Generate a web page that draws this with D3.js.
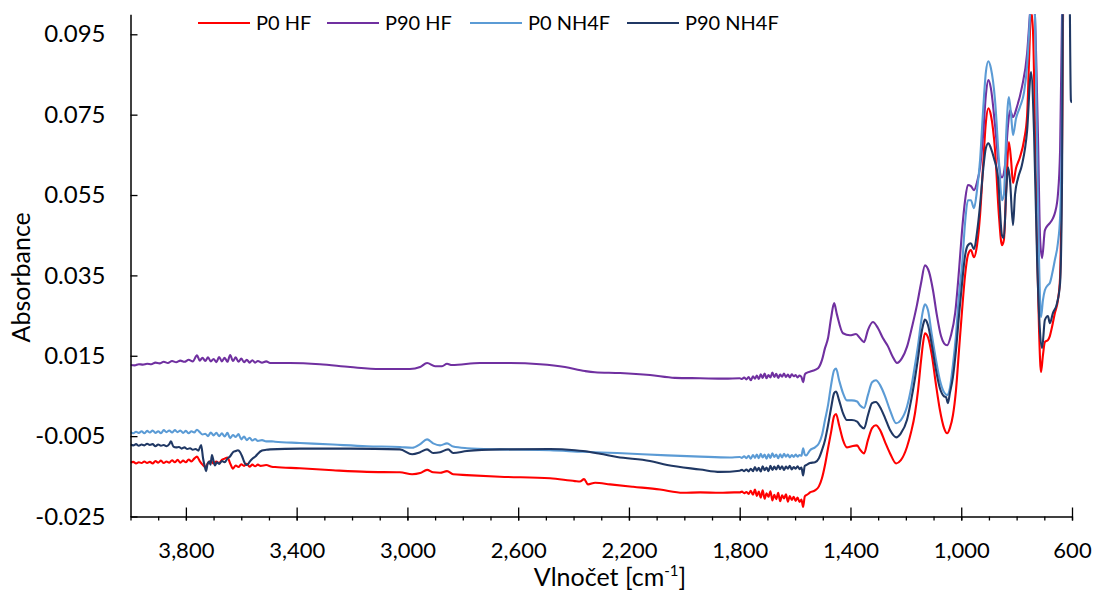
<!DOCTYPE html>
<html>
<head>
<meta charset="utf-8">
<script src="https://cdn.jsdelivr.net/npm/d3@7"></script>
<style>
  html, body { margin: 0; padding: 0; background: #fff; }
  svg { display: block; font-family: Lato, "Open Sans", sans-serif; }
</style>
</head>
<body>
<svg id="chart" width="1093" height="591"></svg>
<script>
// FTIR spectra: absorbance vs. wavenumber (cm^-1), x axis reversed
const seriesNames = ["P0 HF", "P90 HF", "P0 NH4F", "P90 NH4F"];
const seriesColors = ["#ff0000", "#7030a0", "#5b9bd5", "#203864"];

const wavenumberTicks = [3800, 3400, 3000, 2600, 2200, 1800, 1400, 1000, 600];
const absorbanceTicks = [-0.025, -0.005, 0.015, 0.035, 0.055, 0.075, 0.095];

// [wavenumber, absorbance]
const p0HF = [[4000,-0.0116],[3990,-0.0114],[3980,-0.0118],[3970,-0.0115],[3960,-0.0117],[3950,-0.0113],[3940,-0.0117],[3930,-0.0114],[3920,-0.0118],[3910,-0.0112],[3900,-0.0116],[3890,-0.0111],[3880,-0.0117],[3870,-0.0113],[3860,-0.0116],[3850,-0.0110],[3840,-0.0115],[3830,-0.0109],[3820,-0.0116],[3810,-0.0111],[3800,-0.0115],[3790,-0.0108],[3780,-0.0113],[3770,-0.0106],[3760,-0.0101],[3750,-0.0112],[3740,-0.0121],[3730,-0.0127],[3720,-0.0117],[3710,-0.0112],[3700,-0.0118],[3690,-0.0113],[3680,-0.0117],[3670,-0.0109],[3660,-0.0106],[3650,-0.0103],[3640,-0.0118],[3630,-0.0131],[3620,-0.0123],[3610,-0.0127],[3600,-0.0120],[3590,-0.0124],[3580,-0.0119],[3570,-0.0126],[3560,-0.0121],[3550,-0.0125],[3540,-0.0121],[3530,-0.0124],[3510,-0.0122],[3490,-0.0126],[3478,-0.0127],[3388,-0.0130],[3269,-0.0135],[3146,-0.0139],[3027,-0.0140],[2983,-0.0145],[2954,-0.0142],[2929,-0.0134],[2907,-0.0140],[2882,-0.0141],[2857,-0.0137],[2835,-0.0145],[2785,-0.0147],[2666,-0.0151],[2485,-0.0155],[2395,-0.0162],[2377,-0.0163],[2362,-0.0157],[2348,-0.0170],[2322,-0.0166],[2268,-0.0170],[2185,-0.0176],[2088,-0.0183],[2005,-0.0191],[1943,-0.0190],[1871,-0.0191],[1820,-0.0190],[1800,-0.0190],[1792,-0.0188],[1784,-0.0192],[1776,-0.0189],[1768,-0.0194],[1760,-0.0186],[1752,-0.0196],[1745,-0.0183],[1738,-0.0199],[1731,-0.0188],[1724,-0.0203],[1717,-0.0185],[1710,-0.0206],[1703,-0.0192],[1696,-0.0201],[1689,-0.0187],[1682,-0.0210],[1675,-0.0196],[1668,-0.0207],[1661,-0.0191],[1654,-0.0212],[1647,-0.0197],[1640,-0.0205],[1633,-0.0195],[1626,-0.0213],[1619,-0.0199],[1612,-0.0209],[1605,-0.0201],[1598,-0.0211],[1591,-0.0203],[1584,-0.0214],[1577,-0.0208],[1571,-0.0226],[1565,-0.0200],[1560,-0.0197],[1553,-0.0194],[1546,-0.0190],[1528,-0.0185],[1514,-0.0175],[1503,-0.0155],[1492,-0.0122],[1481,-0.0080],[1470,-0.0040],[1459,0.0000],[1452,0.0005],[1441,-0.0023],[1427,-0.0060],[1413,-0.0078],[1395,-0.0075],[1376,-0.0073],[1366,-0.0083],[1351,-0.0093],[1337,-0.0060],[1322,-0.0030],[1308,-0.0023],[1293,-0.0035],[1275,-0.0065],[1257,-0.0093],[1235,-0.0118],[1218,-0.0110],[1196,-0.0077],[1181,-0.0040],[1167,0.0007],[1156,0.0064],[1145,0.0139],[1138,0.0181],[1131,0.0206],[1120,0.0196],[1106,0.0151],[1091,0.0077],[1077,0.0015],[1062,-0.0030],[1051,-0.0043],[1041,-0.0030],[1030,0.0002],[1019,0.0064],[1008,0.0164],[997,0.0263],[986,0.0351],[976,0.0400],[965,0.0413],[954,0.0395],[943,0.0425],[932,0.0500],[921,0.0624],[911,0.0731],[902,0.0766],[893,0.0749],[878,0.0662],[864,0.0500],[853,0.0425],[846,0.0438],[837,0.0575],[828,0.0682],[820,0.0637],[813,0.0580],[802,0.0617],[788,0.0644],[773,0.0687],[762,0.0749],[755,0.0886],[748,0.1010],[741,0.0960],[734,0.0736],[726,0.0413],[719,0.0214],[712,0.0109],[705,0.0151],[698,0.0184],[687,0.0189],[680,0.0199],[673,0.0219],[662,0.0256],[651,0.0288],[643,0.0346],[636,0.0662],[629,0.1200],[600,0.1200]];

const p90HF = [[4000,0.0127],[3985,0.0126],[3970,0.0129],[3955,0.0128],[3940,0.0130],[3925,0.0129],[3910,0.0133],[3895,0.0131],[3880,0.0135],[3865,0.0132],[3850,0.0137],[3835,0.0134],[3820,0.0138],[3805,0.0135],[3790,0.0140],[3775,0.0136],[3760,0.0151],[3750,0.0138],[3740,0.0145],[3730,0.0137],[3720,0.0146],[3710,0.0136],[3700,0.0142],[3690,0.0134],[3680,0.0147],[3670,0.0136],[3660,0.0145],[3650,0.0135],[3640,0.0152],[3630,0.0137],[3620,0.0146],[3610,0.0135],[3600,0.0143],[3590,0.0134],[3580,0.0140],[3570,0.0133],[3560,0.0139],[3550,0.0133],[3540,0.0137],[3525,0.0133],[3510,0.0136],[3496,0.0132],[3424,0.0132],[3316,0.0129],[3207,0.0122],[3099,0.0117],[2991,0.0117],[2954,0.0122],[2929,0.0132],[2900,0.0124],[2875,0.0124],[2857,0.0130],[2839,0.0127],[2738,0.0132],[2629,0.0132],[2521,0.0129],[2431,0.0122],[2359,0.0112],[2323,0.0109],[2232,0.0107],[2124,0.0102],[2034,0.0095],[1943,0.0094],[1853,0.0093],[1800,0.0094],[1792,0.0092],[1784,0.0096],[1776,0.0091],[1768,0.0097],[1760,0.0089],[1752,0.0099],[1745,0.0093],[1738,0.0101],[1731,0.0092],[1724,0.0104],[1717,0.0095],[1710,0.0106],[1703,0.0094],[1696,0.0102],[1689,0.0096],[1682,0.0108],[1675,0.0097],[1668,0.0105],[1661,0.0095],[1654,0.0103],[1647,0.0098],[1640,0.0106],[1633,0.0097],[1626,0.0103],[1619,0.0096],[1612,0.0104],[1605,0.0099],[1598,0.0102],[1591,0.0096],[1584,0.0101],[1577,0.0097],[1571,0.0084],[1565,0.0103],[1560,0.0107],[1539,0.0112],[1517,0.0119],[1503,0.0139],[1492,0.0169],[1481,0.0194],[1470,0.0244],[1459,0.0281],[1449,0.0253],[1427,0.0206],[1402,0.0201],[1380,0.0204],[1366,0.0194],[1351,0.0184],[1337,0.0214],[1319,0.0234],[1301,0.0219],[1283,0.0194],[1265,0.0174],[1247,0.0147],[1232,0.0132],[1214,0.0144],[1196,0.0172],[1178,0.0221],[1160,0.0276],[1145,0.0331],[1131,0.0375],[1116,0.0358],[1102,0.0313],[1088,0.0251],[1073,0.0199],[1062,0.0181],[1051,0.0176],[1037,0.0201],[1022,0.0256],[1008,0.0363],[997,0.0462],[986,0.0537],[976,0.0575],[965,0.0572],[954,0.0562],[943,0.0582],[932,0.0619],[921,0.0699],[911,0.0799],[902,0.0836],[893,0.0816],[878,0.0724],[864,0.0624],[853,0.0594],[842,0.0624],[831,0.0724],[824,0.0761],[813,0.0744],[799,0.0769],[781,0.0818],[762,0.0903],[752,0.1000],[744,0.1080],[734,0.1000],[723,0.0700],[715,0.0438],[708,0.0393],[698,0.0462],[687,0.0475],[680,0.0480],[669,0.0492],[661,0.0507],[651,0.0550],[643,0.0662],[636,0.1000],[625,0.1200],[600,0.1200]];

const p0NH4F = [[4000,-0.0040],[3990,-0.0043],[3980,-0.0039],[3970,-0.0042],[3960,-0.0038],[3950,-0.0043],[3940,-0.0037],[3930,-0.0041],[3920,-0.0036],[3910,-0.0042],[3900,-0.0038],[3890,-0.0043],[3880,-0.0035],[3870,-0.0040],[3860,-0.0036],[3850,-0.0041],[3840,-0.0035],[3830,-0.0040],[3820,-0.0036],[3810,-0.0042],[3800,-0.0037],[3790,-0.0043],[3780,-0.0038],[3770,-0.0041],[3760,-0.0034],[3750,-0.0040],[3740,-0.0046],[3730,-0.0044],[3720,-0.0050],[3710,-0.0041],[3700,-0.0048],[3690,-0.0042],[3680,-0.0050],[3670,-0.0043],[3660,-0.0051],[3650,-0.0042],[3640,-0.0055],[3630,-0.0047],[3620,-0.0052],[3610,-0.0045],[3600,-0.0058],[3590,-0.0051],[3580,-0.0060],[3570,-0.0054],[3560,-0.0061],[3550,-0.0057],[3540,-0.0062],[3525,-0.0060],[3510,-0.0063],[3490,-0.0063],[3478,-0.0064],[3388,-0.0067],[3269,-0.0071],[3146,-0.0075],[3027,-0.0077],[2983,-0.0079],[2954,-0.0070],[2929,-0.0058],[2907,-0.0068],[2882,-0.0073],[2857,-0.0068],[2835,-0.0076],[2785,-0.0080],[2666,-0.0083],[2485,-0.0085],[2366,-0.0089],[2243,-0.0092],[2062,-0.0098],[1943,-0.0101],[1835,-0.0103],[1800,-0.0102],[1792,-0.0104],[1784,-0.0100],[1776,-0.0105],[1768,-0.0099],[1760,-0.0106],[1752,-0.0097],[1745,-0.0104],[1738,-0.0096],[1731,-0.0105],[1724,-0.0094],[1717,-0.0103],[1710,-0.0096],[1703,-0.0106],[1696,-0.0095],[1689,-0.0104],[1682,-0.0093],[1675,-0.0102],[1668,-0.0096],[1661,-0.0105],[1654,-0.0095],[1647,-0.0103],[1640,-0.0094],[1633,-0.0101],[1626,-0.0096],[1619,-0.0103],[1612,-0.0097],[1605,-0.0102],[1598,-0.0096],[1591,-0.0101],[1584,-0.0097],[1577,-0.0099],[1571,-0.0080],[1565,-0.0096],[1560,-0.0098],[1546,-0.0085],[1528,-0.0078],[1514,-0.0068],[1503,-0.0048],[1492,-0.0010],[1481,0.0027],[1470,0.0077],[1459,0.0114],[1452,0.0118],[1441,0.0089],[1427,0.0057],[1413,0.0039],[1395,0.0039],[1376,0.0036],[1366,0.0027],[1351,0.0020],[1337,0.0052],[1322,0.0084],[1308,0.0089],[1293,0.0077],[1275,0.0049],[1257,0.0014],[1235,-0.0018],[1218,-0.0010],[1196,0.0023],[1181,0.0069],[1167,0.0127],[1156,0.0176],[1145,0.0234],[1138,0.0263],[1131,0.0278],[1120,0.0263],[1106,0.0201],[1091,0.0139],[1077,0.0089],[1062,0.0059],[1051,0.0052],[1041,0.0069],[1030,0.0127],[1019,0.0201],[1008,0.0301],[997,0.0375],[986,0.0482],[976,0.0537],[965,0.0537],[954,0.0517],[943,0.0562],[932,0.0637],[921,0.0761],[911,0.0856],[902,0.0883],[893,0.0866],[878,0.0786],[864,0.0637],[853,0.0537],[846,0.0550],[837,0.0711],[828,0.0794],[820,0.0749],[813,0.0699],[802,0.0741],[788,0.0769],[773,0.0806],[762,0.0873],[755,0.0953],[744,0.1070],[734,0.1000],[726,0.0662],[719,0.0388],[712,0.0246],[705,0.0288],[698,0.0313],[687,0.0326],[680,0.0331],[669,0.0363],[662,0.0388],[651,0.0430],[643,0.0495],[636,0.0786],[632,0.1200],[600,0.1200]];

const p90NH4F = [[4000,-0.0071],[3990,-0.0073],[3980,-0.0070],[3970,-0.0074],[3960,-0.0071],[3950,-0.0073],[3940,-0.0069],[3930,-0.0072],[3920,-0.0070],[3910,-0.0075],[3900,-0.0071],[3890,-0.0074],[3880,-0.0072],[3870,-0.0075],[3860,-0.0070],[3854,-0.0063],[3845,-0.0076],[3835,-0.0078],[3825,-0.0077],[3815,-0.0081],[3805,-0.0078],[3795,-0.0082],[3785,-0.0080],[3775,-0.0084],[3765,-0.0082],[3755,-0.0086],[3745,-0.0072],[3738,-0.0105],[3732,-0.0125],[3727,-0.0137],[3722,-0.0120],[3716,-0.0113],[3711,-0.0121],[3706,-0.0097],[3700,-0.0112],[3695,-0.0123],[3688,-0.0115],[3680,-0.0119],[3670,-0.0112],[3660,-0.0115],[3650,-0.0106],[3640,-0.0100],[3630,-0.0090],[3620,-0.0087],[3612,-0.0085],[3604,-0.0090],[3597,-0.0100],[3590,-0.0113],[3582,-0.0122],[3576,-0.0120],[3568,-0.0112],[3558,-0.0105],[3548,-0.0100],[3539,-0.0093],[3525,-0.0086],[3510,-0.0084],[3496,-0.0083],[3388,-0.0081],[3207,-0.0081],[3027,-0.0083],[2983,-0.0095],[2954,-0.0090],[2929,-0.0083],[2907,-0.0092],[2882,-0.0090],[2853,-0.0083],[2835,-0.0092],[2785,-0.0087],[2666,-0.0083],[2485,-0.0082],[2395,-0.0085],[2366,-0.0087],[2304,-0.0094],[2243,-0.0102],[2124,-0.0112],[2062,-0.0122],[1943,-0.0133],[1871,-0.0139],[1800,-0.0136],[1792,-0.0134],[1784,-0.0137],[1776,-0.0133],[1768,-0.0138],[1760,-0.0131],[1752,-0.0137],[1745,-0.0127],[1738,-0.0136],[1731,-0.0129],[1724,-0.0138],[1717,-0.0125],[1710,-0.0135],[1703,-0.0128],[1696,-0.0137],[1689,-0.0124],[1682,-0.0134],[1675,-0.0126],[1668,-0.0133],[1661,-0.0123],[1654,-0.0132],[1647,-0.0125],[1640,-0.0134],[1633,-0.0126],[1626,-0.0131],[1619,-0.0124],[1612,-0.0133],[1605,-0.0127],[1598,-0.0131],[1591,-0.0125],[1584,-0.0132],[1577,-0.0128],[1571,-0.0148],[1565,-0.0124],[1560,-0.0122],[1546,-0.0117],[1528,-0.0115],[1514,-0.0105],[1503,-0.0085],[1492,-0.0060],[1481,-0.0023],[1470,0.0020],[1459,0.0057],[1452,0.0061],[1441,0.0039],[1427,0.0007],[1413,-0.0010],[1395,-0.0010],[1376,-0.0014],[1366,-0.0023],[1351,-0.0031],[1337,0.0002],[1322,0.0032],[1308,0.0035],[1293,0.0022],[1275,-0.0005],[1257,-0.0035],[1235,-0.0053],[1218,-0.0043],[1196,-0.0010],[1181,0.0039],[1167,0.0094],[1156,0.0144],[1145,0.0201],[1138,0.0226],[1131,0.0240],[1120,0.0226],[1106,0.0176],[1091,0.0114],[1077,0.0069],[1062,0.0049],[1055,0.0047],[1048,0.0032],[1041,0.0057],[1030,0.0097],[1019,0.0164],[1008,0.0251],[997,0.0331],[986,0.0400],[976,0.0425],[965,0.0430],[954,0.0415],[943,0.0457],[932,0.0525],[921,0.0612],[911,0.0667],[902,0.0679],[893,0.0667],[882,0.0642],[867,0.0592],[853,0.0450],[846,0.0443],[838,0.0550],[831,0.0619],[824,0.0587],[813,0.0475],[806,0.0550],[795,0.0592],[781,0.0624],[762,0.0711],[748,0.0856],[737,0.0704],[726,0.0388],[716,0.0214],[708,0.0169],[698,0.0239],[687,0.0249],[680,0.0231],[669,0.0256],[654,0.0281],[643,0.0331],[636,0.0587],[632,0.1200],[611,0.1200],[604,0.0786],[600,0.0780]];

const seriesData = [p0HF, p90HF, p0NH4F, p90NH4F];

// ---- layout ----
const plot = { left: 130.5, right: 1072, top: 14.2, bottom: 516.5 };
const svg = d3.select("#chart");

const x = d3.scaleLinear().domain([4000, 600]).range([plot.left, plot.right]);
const y = d3.scaleLinear().domain([-0.025, 0.1]).range([plot.bottom, plot.top]);

svg.append("defs").append("clipPath").attr("id", "plotClip")
  .append("rect")
  .attr("x", plot.left).attr("y", plot.top)
  .attr("width", plot.right - plot.left).attr("height", plot.bottom - plot.top);

// spectra
const line = d3.line()
  .x(d => x(d[0]))
  .y(d => y(d[1]))
  .curve(d3.curveMonotoneX);

svg.append("g").attr("clip-path", "url(#plotClip)")
  .selectAll("path")
  .data(seriesData)
  .join("path")
  .attr("d", line)
  .attr("fill", "none")
  .attr("stroke", (d, i) => seriesColors[i])
  .attr("stroke-width", 2.1)
  .attr("stroke-linejoin", "round");

// x axis: minor ticks every 100 cm^-1 (outside), major ticks crossing the axis
const minorTicks = d3.range(4000, 599, -100);
svg.append("g")
  .attr("transform", `translate(0,${plot.bottom})`)
  .call(d3.axisBottom(x).tickValues(minorTicks).tickSize(4).tickFormat(""))
  .call(g => g.select(".domain").remove())
  .call(g => g.selectAll("line").attr("stroke", "#000").attr("stroke-width", 1.3));

const xAxis = svg.append("g")
  .attr("transform", `translate(0,${plot.bottom})`)
  .call(d3.axisBottom(x).tickValues(wavenumberTicks).tickSizeInner(4).tickSizeOuter(0)
    .tickPadding(22).tickFormat(d3.format(",")));
xAxis.select(".domain").attr("stroke", "#000").attr("stroke-width", 1.5);
xAxis.selectAll(".tick line").attr("y1", -9).attr("stroke", "#000").attr("stroke-width", 1.3);
xAxis.selectAll(".tick text").attr("font-size", 22).attr("fill", "#000")
  .attr("font-family", "Lato, sans-serif");

// y axis: ticks pointing into the plot, plain hyphen for negatives
const fmtY = d3.format(".3f");
const yAxis = svg.append("g")
  .attr("transform", `translate(${plot.left},0)`)
  .call(d3.axisLeft(y).tickValues(absorbanceTicks).tickSizeInner(-7).tickSizeOuter(0)
    .tickPadding(25).tickFormat(d => fmtY(d).replace("\u2212", "-")));
yAxis.select(".domain").attr("stroke", "#000").attr("stroke-width", 1.5);
yAxis.selectAll(".tick line").attr("stroke", "#000").attr("stroke-width", 1.3);
yAxis.selectAll(".tick text").attr("font-size", 24).attr("fill", "#000")
  .attr("font-family", "Lato, sans-serif");

// axis titles
svg.append("text")
  .attr("transform", `translate(30,${(plot.top + plot.bottom) / 2 + 12}) rotate(-90)`)
  .attr("text-anchor", "middle")
  .attr("font-size", 25)
  .text("Absorbance");

const xTitle = svg.append("text")
  .attr("x", 610).attr("y", 586)
  .attr("text-anchor", "middle")
  .attr("font-size", 25);
xTitle.append("tspan").text("Vlnočet [cm");
xTitle.append("tspan").attr("font-size", 15).attr("dy", -10).text("-1");
xTitle.append("tspan").attr("dy", 10).text("]");

// legend
const legendX = [198, 327, 470, 627];
const legend = svg.append("g").selectAll("g")
  .data(seriesNames)
  .join("g")
  .attr("transform", (d, i) => `translate(${legendX[i]},23)`);
legend.append("line")
  .attr("x1", 0).attr("x2", 52).attr("y1", 0).attr("y2", 0)
  .attr("stroke", (d, i) => seriesColors[i]).attr("stroke-width", 2.2);
legend.append("text")
  .attr("x", 58).attr("y", 0).attr("dy", "0.35em")
  .attr("font-size", 20)
  .text(d => d);
</script>
</body>
</html>
